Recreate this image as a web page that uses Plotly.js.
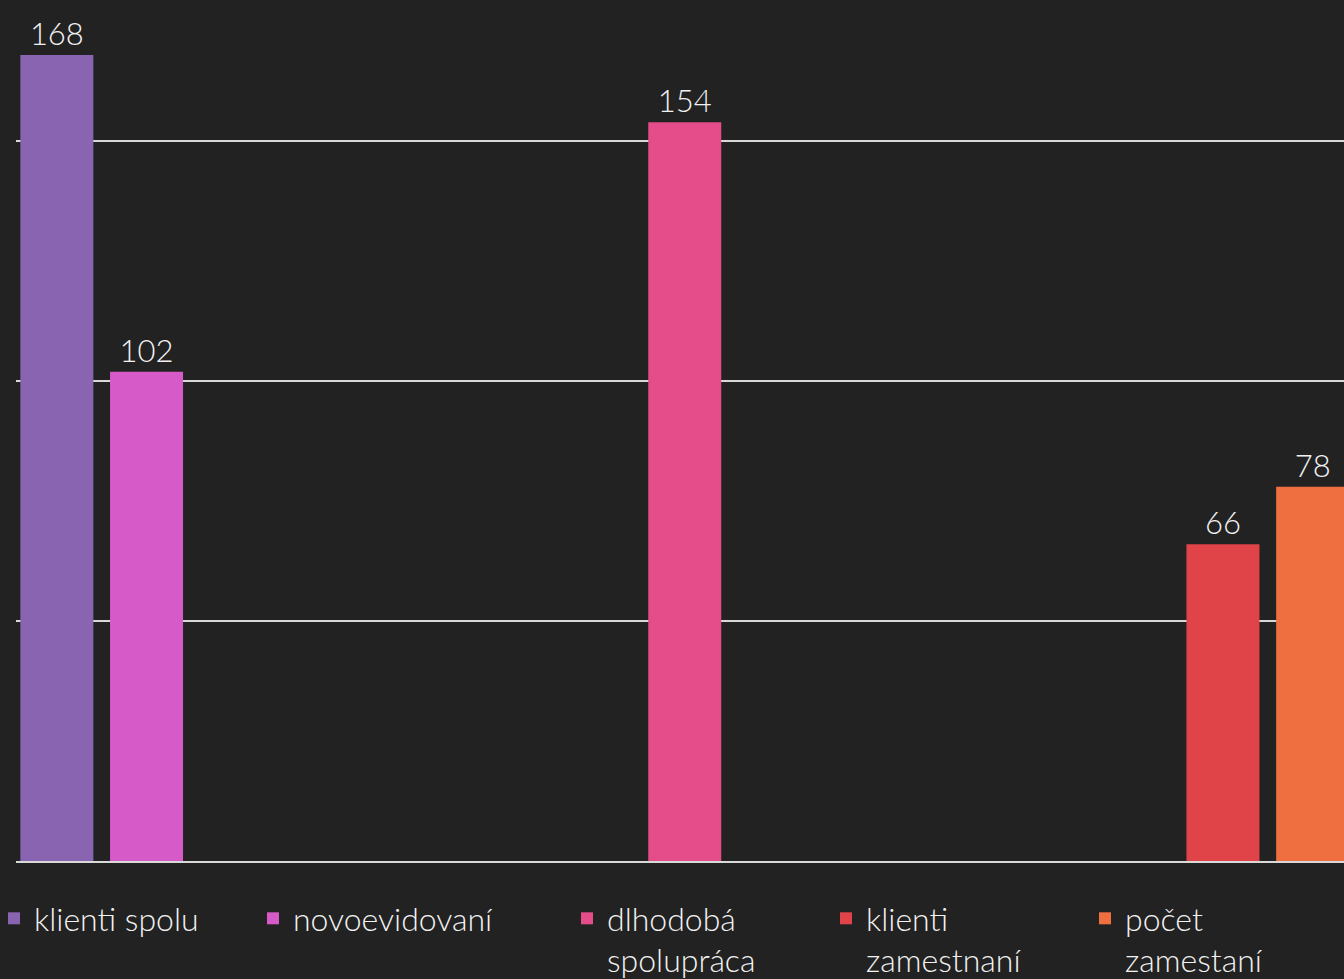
<!DOCTYPE html>
<html>
<head>
<meta charset="utf-8">
<script src="https://cdn.plot.ly/plotly-3.0.1.min.js"></script>
<style>
html,body{margin:0;padding:0;background:#222222;overflow:hidden;}
#chart{width:1344px;height:979px;}
</style>
</head>
<body>
<div id="chart"></div>
<script>
// categories (hidden on the axis)
const categories = ['k1', 'k2', 'k3'];

// series names (legend labels)
const seriesNames = [
  'klienti spolu',
  'novoevidovaní',
  'dlhodobá<br>spolupráca',
  'klienti<br>zamestnaní',
  'počet<br>zamestaní'
];

// series values per category
const klientiSpolu       = [168, null, null];
const novoevidovani      = [102, null, null];
const dlhodobaSpolupraca = [null, 154, null];
const klientiZamestnani  = [null, null, 66];
const pocetZamestani     = [null, null, 78];

const seriesValues = [klientiSpolu, novoevidovani, dlhodobaSpolupraca, klientiZamestnani, pocetZamestani];
const seriesColors = ['#8964B0', '#D65BC9', '#E44D8A', '#E04449', '#EF6F41'];

// layout geometry (px)
const W = 1344, H = 979;
const plotLeft = 16, plotBottom = 861;
const catShiftPx = 4;
const catPx = 448.5;
const plotW = W - plotLeft;
const legendTextPx = [34, 293, 607, 866, 1125];
const legendTopPx = 891;

const FONT = 'Lato, "Noto Sans", sans-serif';
const legendIds = ['legend', 'legend2', 'legend3', 'legend4', 'legend5'];

const traces = seriesValues.map((vals, i) => ({
  type: 'bar',
  name: seriesNames[i],
  x: categories,
  y: vals,
  marker: {color: seriesColors[i]},
  texttemplate: '%{y}',
  textposition: 'outside',
  cliponaxis: false,
  textfont: {family: FONT, size: 31, color: '#f2f2f2', weight: 300},
  legend: legendIds[i],
  hoverinfo: 'skip'
}));

const rangeStart = -0.5 + catShiftPx / catPx;
const layout = {
  width: W,
  height: H,
  paper_bgcolor: '#222222',
  plot_bgcolor: '#222222',
  margin: {l: plotLeft, r: 0, t: 0, b: H - plotBottom, pad: 0, autoexpand: false},
  barmode: 'group',
  bargap: 0,
  bargroupgap: 1 - 73 / (catPx / 5),
  font: {family: FONT, color: '#f2f2f2'},
  xaxis: {
    type: 'category',
    range: [rangeStart, rangeStart + plotW / catPx],
    showticklabels: false,
    ticks: '',
    showgrid: false,
    zeroline: false,
    showline: true,
    linecolor: '#d9d9d9',
    linewidth: 2,
    layer: 'above traces',
    fixedrange: true
  },
  yaxis: {
    range: [0, plotBottom / (806 / 168)],
    dtick: 50,
    tick0: 0,
    showticklabels: false,
    ticks: '',
    showgrid: true,
    gridcolor: '#d9d9d9',
    gridwidth: 2,
    zeroline: false,
    showline: false,
    fixedrange: true
  },
  showlegend: true
};

legendIds.forEach((id, i) => {
  layout[id] = {
    x: (legendTextPx[i] - 40 - plotLeft) / plotW,
    xanchor: 'left',
    y: -(legendTopPx - plotBottom) / plotBottom,
    yanchor: 'top',
    orientation: 'v',
    valign: 'top',
    bgcolor: 'rgba(0,0,0,0)',
    borderwidth: 0,
    font: {family: FONT, size: 32, color: '#f2f2f2', weight: 300}
  };
});

Plotly.newPlot('chart', traces, layout, {displayModeBar: false, staticPlot: true});
</script>
</body>
</html>
